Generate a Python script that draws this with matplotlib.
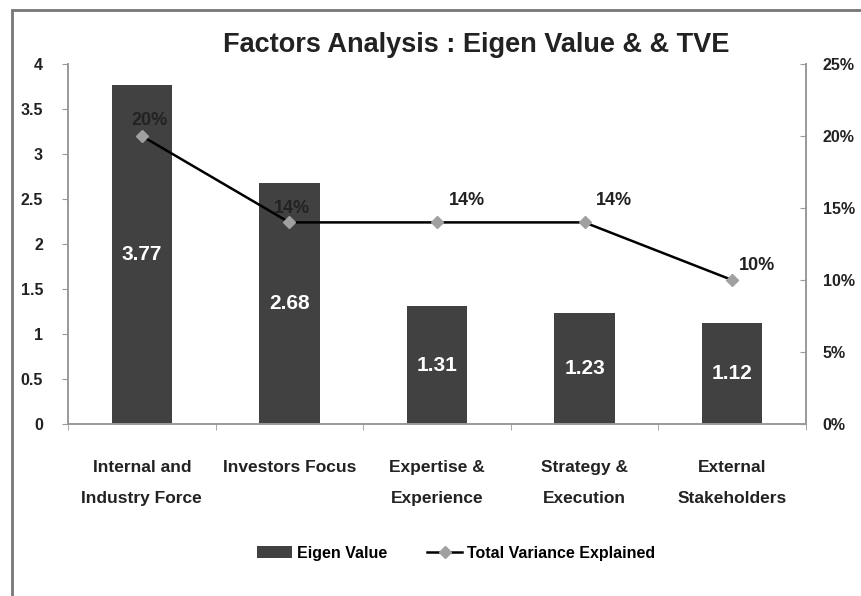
import matplotlib
matplotlib.use("Agg")
import matplotlib.pyplot as plt
from matplotlib.lines import Line2D
from matplotlib.patches import Patch, Rectangle
import numpy as np

categories = ["Internal and\nIndustry Force", "Investors Focus", "Expertise &\nExperience",
              "Strategy &\nExecution", "External\nStakeholders"]
eigen_values = [3.77, 2.68, 1.31, 1.23, 1.12]
tve = [20, 14, 14, 14, 10]
tve_labels = ["20%", "14%", "14%", "14%", "10%"]

plt.rcParams["font.family"] = ["Liberation Sans Narrow", "Liberation Sans", "DejaVu Sans"]
plt.rcParams["font.weight"] = "bold"

fig = plt.figure(figsize=(8.61, 5.96), dpi=100)
ax = fig.add_axes([0.079, 0.2886, 0.857, 0.604])
ax2 = ax.twinx()

x = np.arange(len(categories))
ax.bar(x, eigen_values, width=0.41, color="#414141", zorder=2)
for xi, v in zip(x, eigen_values):
    ax.text(xi, v / 2, f"{v:.2f}", color="white", ha="center", va="center",
            fontsize=15, fontweight="bold")

ax.set_ylim(0, 4)
ax.set_xlim(-0.5, len(categories) - 0.5)
ax.set_yticks(np.arange(0, 4.01, 0.5))
ax.set_yticklabels(["0", "0.5", "1", "1.5", "2", "2.5", "3", "3.5", "4"])
ax.set_xticks(x)
ax.set_xticklabels(categories, fontsize=12.5, fontweight="bold", color="#222222",
                   linespacing=2.3)
ax.set_xticks(np.arange(-0.5, len(categories)), minor=True)
ax.tick_params(axis="x", which="major", length=0, pad=26)
ax.tick_params(axis="x", which="minor", length=4, color="#999999", direction="out")
ax.tick_params(axis="y", length=4, color="#999999", labelsize=11.5, pad=14, labelcolor="#222222")

ax2.plot(x, tve, color="black", linewidth=1.8, marker="D", markersize=6.5,
         markerfacecolor="#a0a0a0", markeredgecolor="#a0a0a0", zorder=3)
ax2.set_ylim(0, 25)
ax2.set_yticks(np.arange(0, 26, 5))
ax2.set_yticklabels([f"{t}%" for t in range(0, 26, 5)])
ax2.tick_params(axis="y", length=4, color="#999999", direction="in", labelsize=11.5,
                pad=12, labelcolor="#222222")

offsets = [(0.05, 1.1), (0.02, 1.0), (0.2, 1.5), (0.2, 1.5), (0.17, 1.0)]
for xi, t, lab, (dx, dy) in zip(x, tve, tve_labels, offsets):
    ax2.text(xi + dx, t + dy, lab, ha="center", va="center", fontsize=13,
             fontweight="bold", color="#222222")

for a in (ax, ax2):
    a.spines["top"].set_visible(False)
    for s in ("left", "right", "bottom"):
        a.spines[s].set_color("#999999")
        a.spines[s].set_linewidth(1.2)

fig.text(0.553, 0.925, "Factors Analysis : Eigen Value & & TVE", ha="center", va="center",
         fontsize=19.5, fontweight="bold", color="#222222")

handles = [Patch(facecolor="#414141", label="Eigen Value"),
           Line2D([0], [0], color="black", linewidth=1.8, marker="D", markersize=6,
                  markerfacecolor="#a0a0a0", markeredgecolor="#a0a0a0",
                  label="Total Variance Explained")]
fig.legend(handles=handles, loc="center", bbox_to_anchor=(0.53, 0.072), ncol=2,
           frameon=False, fontsize=11.5, handlelength=2.2, columnspacing=2.5,
           handletextpad=0.3)

fig.patches.append(Rectangle((0.014, -0.1), 1.2, 1.083, transform=fig.transFigure,
                             fill=False, edgecolor="#777777", linewidth=2))

fig.savefig("out.png", dpi=100)
